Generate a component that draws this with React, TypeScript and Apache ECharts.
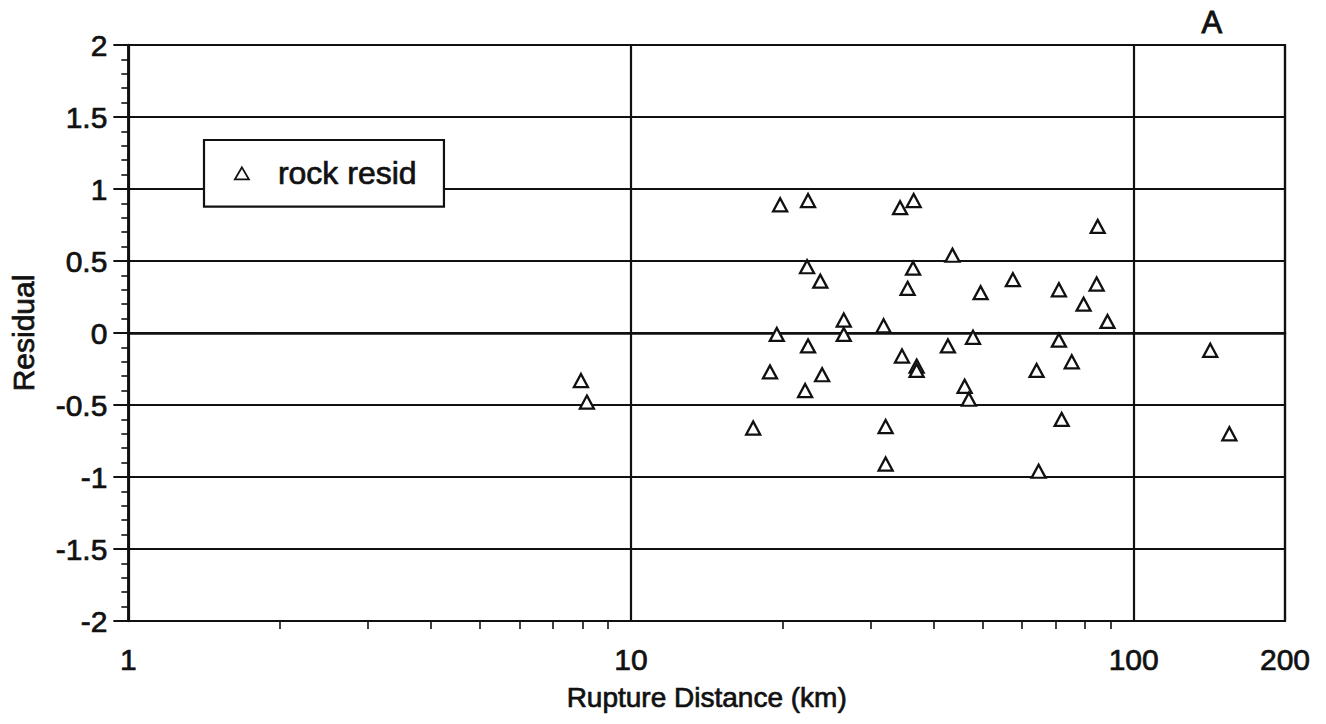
import React, { useEffect, useRef } from "react";
import * as echarts from "echarts";

const seriesName = "rock resid";
const distances = [
  7.95, 8.17, 17.5, 18.9, 19.5, 19.8, 22.5, 22.4, 22.5, 22.2, 23.8, 24.0, 26.5, 26.5,
  31.8, 32.1, 32.1, 34.3, 34.6, 35.5, 36.5, 36.4, 37.0, 37.0, 42.7, 43.6, 46.1, 47.0,
  47.9, 49.6, 57.5, 64.1, 64.7, 71.0, 71.0, 71.9, 75.3, 79.5, 84.4, 84.8, 88.7, 142, 155,
];
const residuals = [
  -0.33, -0.48, -0.66, -0.27, -0.01, 0.89, 0.92, 0.46, -0.09, -0.4, 0.36, -0.29, 0.09, -0.01,
  0.05, -0.65, -0.91, 0.87, -0.16, 0.31, 0.92, 0.45, -0.23, -0.26, -0.09, 0.54, -0.37, -0.46,
  -0.03, 0.28, 0.37, -0.26, -0.96, 0.3, -0.05, -0.6, -0.2, 0.2, 0.34, 0.74, 0.08, -0.12, -0.7,
];
const xMinorTicks = [2, 3, 4, 5, 6, 7, 8, 9, 20, 30, 40, 50, 60, 70, 80, 90];
const xMin = 1;
const xMax = 200;
const yMin = -2;
const yMax = 2;
const yInterval = 0.5;
const xTitle = "Rupture Distance (km)";
const yTitle = "Residual";
const panelLabel = "A";

const FONT = "'Liberation Sans', Arial, Helvetica, sans-serif";
const INK = "#111";
const heavy = { textBorderColor: INK, textBorderWidth: 0.7 };

export default function App() {
  const ref = useRef<HTMLDivElement>(null);
  useEffect(() => {
    if (!ref.current) return;
    const chart = echarts.init(ref.current, undefined, { renderer: "svg" });
    const points = distances.map((d, i) => [d, residuals[i]]);
    chart.setOption({
      animation: false,
      backgroundColor: "#fff",
      textStyle: { fontFamily: FONT, color: INK },
      grid: {
        left: 127,
        right: 41,
        top: 45,
        bottom: 103,
        show: true,
        borderColor: INK,
        borderWidth: 2.2,
        backgroundColor: "transparent",
      },
      legend: {
        show: true,
        data: [seriesName],
        left: 204,
        top: 140,
        padding: [17, 27, 17, 30],
        backgroundColor: "#fff",
        borderColor: INK,
        borderWidth: 2.2,
        borderRadius: 0,
        itemWidth: 14,
        itemHeight: 12,
        selectedMode: false,
        itemStyle: { color: "#fff", borderColor: INK, borderWidth: 1.8 },
        textStyle: {
          fontFamily: FONT,
          fontSize: 32,
          color: INK,
          lineHeight: 32,
          padding: [0, 0, 0, 24],
          ...heavy,
        },
      },
      xAxis: [
        {
          type: "log",
          logBase: 10,
          min: xMin,
          max: xMax,
          position: "bottom",
          name: xTitle,
          nameLocation: "middle",
          nameGap: 62,
          nameTextStyle: { fontFamily: FONT, fontSize: 28, color: INK, ...heavy },
          axisLine: { show: true, lineStyle: { color: INK, width: 2.5 } },
          axisTick: { show: true, length: 16, inside: false, lineStyle: { color: INK, width: 2 } },
          axisLabel: { fontFamily: FONT, fontSize: 30, color: INK, margin: 23, ...heavy },
          splitLine: { show: true, lineStyle: { color: INK, width: 2.2 } },
        },
        {
          type: "log",
          logBase: 10,
          min: xMin,
          max: xMax,
          position: "bottom",
          axisLine: { show: false },
          axisLabel: { show: false },
          splitLine: { show: false },
          axisTick: {
            show: true,
            length: 8,
            inside: false,
            customValues: xMinorTicks,
            lineStyle: { color: INK, width: 1.6 },
          },
        },
      ],
      yAxis: {
        type: "value",
        min: yMin,
        max: yMax,
        interval: yInterval,
        name: yTitle,
        nameLocation: "middle",
        nameGap: 90,
        nameRotate: 90,
        nameTextStyle: { fontFamily: FONT, fontSize: 30, color: INK, ...heavy },
        axisLine: { show: true, lineStyle: { color: INK, width: 2.5 } },
        axisTick: { show: true, length: 15, inside: false, lineStyle: { color: INK, width: 2 } },
        minorTick: { show: true, splitNumber: 5, length: 7, lineStyle: { color: INK, width: 1.6 } },
        axisLabel: { fontFamily: FONT, fontSize: 30, color: INK, margin: 21, ...heavy },
        splitLine: { show: true, lineStyle: { color: INK, width: 2.2 } },
      },
      graphic: [
        {
          type: "text",
          left: 1201,
          top: 7,
          style: { text: panelLabel, fontFamily: FONT, fontSize: 31, fill: INK, stroke: INK, lineWidth: 0.9 },
        },
      ],
      series: [
        {
          name: seriesName,
          type: "scatter",
          xAxisIndex: 0,
          yAxisIndex: 0,
          symbol: "triangle",
          symbolSize: [14, 13],
          itemStyle: { color: "#fff", borderColor: INK, borderWidth: 2.3, opacity: 1 },
          z: 5,
          data: points,
        },
      ],
    });
    return () => chart.dispose();
  }, []);
  return (
    <div
      ref={ref}
      style={{ position: "fixed", left: 0, top: 0, width: 1326, height: 724, background: "#fff" }}
    />
  );
}
